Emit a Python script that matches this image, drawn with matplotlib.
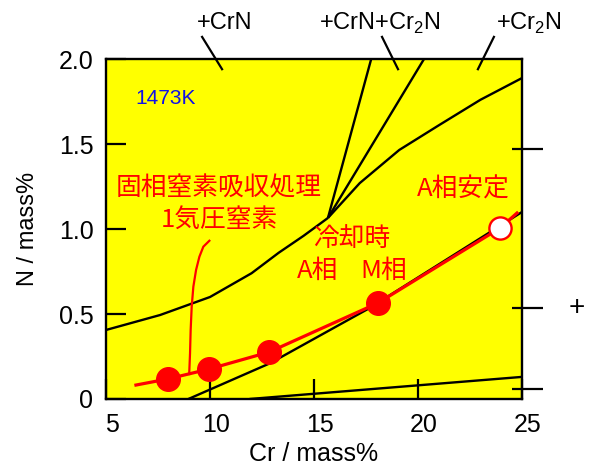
import matplotlib
matplotlib.use("Agg")
import matplotlib.pyplot as plt
import matplotlib.transforms as mtransforms
from matplotlib.ticker import FixedLocator

plt.rcParams["font.family"] = ["Liberation Sans", "DejaVu Sans"]
plt.rcParams["mathtext.fontset"] = "custom"
plt.rcParams["mathtext.rm"] = "Liberation Sans"

# Phase boundaries of the Fe-Cr-N section at 1473 K (Cr mass%, N mass%)
crn_boundary_cr = [5.0, 7.6, 10.0, 12.0, 13.3, 14.5, 15.67]
crn_boundary_n = [0.406, 0.494, 0.60, 0.74, 0.86, 0.96, 1.065]
steep_boundary_cr = [15.67, 17.75]
steep_boundary_n = [1.065, 2.0]
mid_boundary_cr = [15.67, 20.29]
mid_boundary_n = [1.065, 2.0]
cr2n_boundary_cr = [15.67, 17.2, 19.1, 21.0, 23.0, 25.0]
cr2n_boundary_n = [1.065, 1.27, 1.465, 1.61, 1.76, 1.888]
ms_boundary_cr = [8.96, 12.88, 17.6, 25.0]
ms_boundary_n = [0.0, 0.21, 0.53, 1.10]
low_boundary_cr = [11.9, 25.0]
low_boundary_n = [0.0, 0.13]

# Nitrogen content obtained by solid-state nitriding
trend_cr = [6.44, 7.98, 9.95, 12.84, 18.08, 23.94, 24.76]
trend_n = [0.082, 0.118, 0.176, 0.276, 0.565, 1.005, 1.094]
solid_cr = [7.98, 9.95, 12.84, 18.08]
solid_n = [0.118, 0.176, 0.276, 0.565]
open_cr = [23.94]
open_n = [1.005]

# Leader curve for the nitriding label
leader_cr = [9.97, 9.68, 9.49, 9.33, 9.20, 9.12, 9.07, 9.04, 9.00]
leader_n = [0.931, 0.896, 0.837, 0.759, 0.661, 0.543, 0.406, 0.269, 0.147]

x_ticks = [5, 10, 15, 20, 25]
y_ticks = [0, 0.5, 1.0, 1.5, 2.0]
y_tick_labels = ["0", "0.5", "1.0", "1.5", "2.0"]
right_tick_levels = [1.47, 0.535, 0.06]

# Region labels above the frame, with pointers into the diagram
region_labels = ["+CrN", "+CrN+Cr$_{\\mathregular{2}}$N", "+Cr$_{\\mathregular{2}}$N"]
region_label_cr = [10.72, 18.17, 25.34]
region_label_n = [2.21, 2.21, 2.21]
pointer_start_cr = [9.62, 18.27, 23.65]
pointer_end_cr = [10.58, 19.04, 22.88]
pointer_start_n = 2.13
pointer_end_n = 1.94

fig = plt.figure(figsize=(5.9, 4.71), dpi=100)
ax = fig.add_axes([106 / 590, 1 - 399 / 471, 416 / 590, 340 / 471])
ax.set_facecolor("#FFFF00")
ax.set_xlim(5, 25)
ax.set_ylim(0, 2.0)

black = dict(color="black", lw=1.7, solid_capstyle="butt")
ax.plot(crn_boundary_cr, crn_boundary_n, **black)
ax.plot(steep_boundary_cr, steep_boundary_n, **black)
ax.plot(mid_boundary_cr, mid_boundary_n, **black)
ax.plot(cr2n_boundary_cr, cr2n_boundary_n, **black)
ax.plot(ms_boundary_cr, ms_boundary_n, **black)
ax.plot(low_boundary_cr, low_boundary_n, **black)

ax.plot(leader_cr, leader_n, color="red", lw=1.6)
ax.plot(trend_cr, trend_n, color="red", lw=2.3, zorder=4)
ax.plot(solid_cr, solid_n, "o", color="red", ms=17, mec="red", zorder=5)
ax.plot(open_cr, open_n, "o", mfc="white", mec="red", mew=1.7, ms=16, zorder=5)

for label, cx, cy, sx, ex in zip(region_labels, region_label_cr, region_label_n,
                                  pointer_start_cr, pointer_end_cr):
    ax.text(cx, cy, label, fontsize=17, ha="center", va="center", clip_on=False)
    ax.plot([sx, ex], [pointer_start_n, pointer_end_n], color="black", lw=1.6,
            clip_on=False)

ax.text(6.39, 1.765, "1473K", color="#1010E8", fontsize=15, ha="left", va="center")

jp = ["Noto Sans CJK JP", "DejaVu Sans"]
red_text = dict(color="red", fontsize=18.5, ha="center", va="center", family=jp)
ax.text(10.43, 1.241, "固相窒素吸収処理", **red_text)
ax.text(10.43, 1.053, "1気圧窒素", **red_text)
ax.text(16.83, 0.941, "冷却時", **red_text)
ax.text(15.17, 0.753, "A相", **red_text)
ax.text(18.37, 0.753, "M相", **red_text)
ax.text(22.16, 1.235, "A相安定", **red_text)

for side in ax.spines.values():
    side.set_linewidth(1.7)

ax.set_xticks(x_ticks)
ax.set_yticks(y_ticks)
ax.set_yticklabels(y_tick_labels)
ax.tick_params(axis="both", direction="in", length=14.4, width=1.6,
               labelsize=18)
ax.tick_params(axis="x", pad=10)
ax.tick_params(axis="y", pad=9)
shift = mtransforms.ScaledTranslation(6 / 100, 0, fig.dpi_scale_trans)
for lab in ax.get_xticklabels():
    lab.set_transform(lab.get_transform() + shift)

ax.set_xlabel("Cr / mass%", fontsize=18, labelpad=4)
ax.set_ylabel("N / mass%", fontsize=17, labelpad=14)

# Right-hand tick marks crossing the frame
ax2 = ax.twinx()
ax2.set_ylim(0, 2.0)
ax2.yaxis.remove_overlapping_locs = False
ax2.yaxis.set_major_locator(FixedLocator(right_tick_levels))
ax2.yaxis.set_minor_locator(FixedLocator(right_tick_levels))
ax2.tick_params(axis="y", which="major", direction="out", length=15, width=1.6,
                labelright=False)
ax2.tick_params(axis="y", which="minor", direction="in", length=7.5, width=1.6)
for side in ax2.spines.values():
    side.set_visible(False)
ax2.text(1.132, right_tick_levels[1], "+", transform=ax2.get_yaxis_transform(),
         fontsize=20, ha="center", va="center")

fig.savefig("out.png", dpi=100)
